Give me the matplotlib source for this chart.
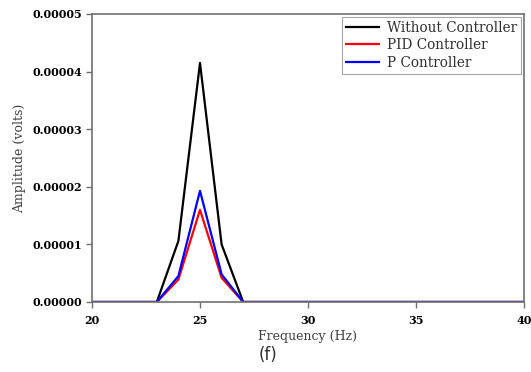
import matplotlib
matplotlib.use("Agg")
import matplotlib.pyplot as plt

freq = list(range(20, 41))
without_ctrl = [0, 0, 0, 0, 1.06e-5, 4.15e-5, 1.0e-5] + [0] * 14
pid_ctrl = [0, 0, 0, 0, 3.9e-6, 1.6e-5, 4.2e-6] + [0] * 14
p_ctrl = [0, 0, 0, 0, 4.5e-6, 1.93e-5, 4.8e-6] + [0] * 14

xticks = [20, 25, 30, 35, 40]
yticks = [0, 0.00001, 0.00002, 0.00003, 0.00004, 0.00005]
ytick_labels = ["0.00000", "0.00001", "0.00002", "0.00003", "0.00004", "0.00005"]

fig = plt.figure(figsize=(5.31, 3.72), dpi=100)
ax = fig.add_axes([92/531, 1 - 302/372, (524-92)/531, (302-14)/372])

ax.plot(freq, without_ctrl, color="black", lw=1.6, label="Without Controller")
ax.plot(freq, pid_ctrl, color="#ff0000", lw=1.6, label="PID Controller")
ax.plot(freq, p_ctrl, color="#0000ff", lw=1.6, label="P Controller")

ax.set_xlim(20, 40)
ax.set_ylim(0, 0.00005)
ax.set_xticks(xticks)
ax.set_xticklabels([str(t) for t in xticks], fontfamily="DejaVu Serif", fontweight="bold", fontsize=8)
ax.set_yticks(yticks)
ax.set_yticklabels(ytick_labels, fontfamily="DejaVu Serif", fontweight="bold", fontsize=8)
ax.tick_params(axis="y", direction="out", length=4, width=1, color="#707070", pad=3)
ax.tick_params(axis="x", direction="out", length=4, width=1, color="#707070", pad=5)
for s in ax.spines.values():
    s.set_color("#707070")
    s.set_linewidth(1.2)

ax.set_xlabel("Frequency (Hz)", fontfamily="DejaVu Serif", fontsize=9, color="#404040", labelpad=3)
ax.set_ylabel("Amplitude (volts)", fontfamily="DejaVu Serif", fontsize=9, color="#404040", labelpad=5)

leg = ax.legend(loc="upper right", prop={"family": "DejaVu Serif", "size": 9.8}, frameon=True,
                fancybox=False, edgecolor="#909090", borderaxespad=0.2, handlelength=2.4,
                borderpad=0.3, labelspacing=0.25, handletextpad=0.6)
leg.get_frame().set_linewidth(0.8)
for t in leg.get_texts():
    t.set_color("#303030")

fig.text(268/531, 1 - 355/372, "(f)", ha="center", va="center", fontsize=12, fontfamily="DejaVu Sans", color="#303030")

fig.savefig("out.png", dpi=100)
